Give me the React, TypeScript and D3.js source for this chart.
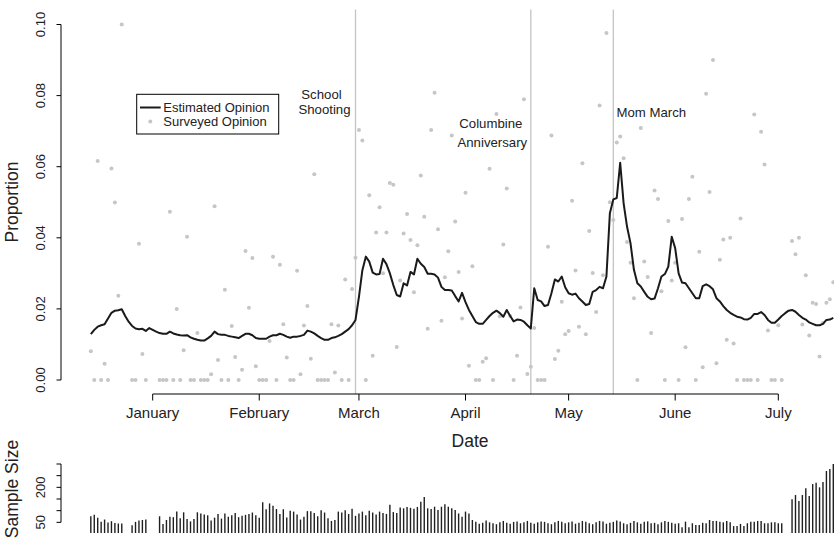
import React from "react";
import * as d3 from "d3";

// ---------- data ----------
const estimatedStart = "1999-12-14";
const estimated = [
  // Dec 14-31
  .0129,.0141,.0150,.0154,.0157,.0173,.0189,.0195,.0196,.0199,.0180,.0164,.0152,.0145,.0143,.0144,.0138,.0146,
  // Jan
  .0141,.0136,.0132,.0130,.0130,.0136,.0131,.0128,.0126,.0125,.0126,.0120,.0116,.0113,.0111,.0111,.0117,.0124,.0136,.0129,
  .0127,.0127,.0124,.0122,.0120,.0118,.0124,.0130,.0130,.0126,.0118,
  // Feb
  .0116,.0116,.0116,.0122,.0126,.0126,.0130,.0127,.0122,.0119,.0122,.0122,.0124,.0127,.0139,.0136,.0131,.0124,.0118,.0113,
  .0113,.0118,.0120,.0124,.0129,.0136,.0143,.0154,.0169,
  // Mar
  .0234,.0309,.0347,.0333,.0302,.0297,.0298,.0341,.0326,.0300,.0267,.0239,.0235,.0272,.0266,.0304,.0297,.0341,.0327,.0318,
  .0299,.0299,.0297,.0288,.0262,.0253,.0253,.0252,.0236,.0221,.0245,
  // Apr
  .0219,.0197,.0180,.0163,.0158,.0158,.0169,.0180,.0189,.0195,.0188,.0178,.0197,.0180,.0165,.0170,.0169,.0164,.0154,.0145,
  .0258,.0225,.0221,.0208,.0211,.0244,.0283,.0277,.0291,.0261,
  // May
  .0244,.0240,.0243,.0230,.0221,.0211,.0214,.0248,.0253,.0262,.0258,.0291,.0469,.0508,.0512,.0611,.0497,.0431,.0385,.0310,
  .0272,.0263,.0248,.0234,.0227,.0229,.0258,.0291,.0298,.0319,.0403,
  // Jun
  .0371,.0300,.0274,.0272,.0258,.0244,.0230,.0230,.0264,.0269,.0264,.0255,.0230,.0221,.0208,.0197,.0189,.0183,.0178,.0176,
  .0171,.0170,.0175,.0186,.0186,.0191,.0183,.0169,.0161,.0161,
  // Jul 1-17
  .0170,.0180,.0188,.0195,.0197,.0192,.0183,.0175,.0170,.0162,.0158,.0154,.0154,.0158,.0169,.0170,.0175,
];

const surveyPeriods = [
  ["1999-12-14", "1999-12-23"],
  ["1999-12-26", "1999-12-30"],
  ["2000-01-03", "2000-07-02"],
  ["2000-07-05", "2000-07-17"],
];

const surveyed = [
  // Dec 14-23
  .0081,0,.0616,0,.0046,0,.0595,.0499,.0237,.1000,
  // Dec 26-30
  0,0,.0383,.0073,0,
  // Jan 3-31
  0,0,0,.0473,0,.0200,0,.0084,.0403,0,0,.0132,0,0,0,.0016,.0489,.0056,0,.0254,0,.0152,.0065,0,.0029,.0363,.0203,.0343,.0039,
  // Feb
  0,0,0,.0110,.0347,0,.0324,.0157,.0063,0,0,.0307,.0016,.0153,.0208,.0060,.0579,0,0,0,0,.0157,.0021,.0153,0,.0283,0,.0256,.0344,
  // Mar
  .0703,.0674,0,.0520,.0068,.0415,.0486,.0300,.0415,.0554,.0549,.0093,.0280,.0412,.0467,.0394,.0247,.0379,.0575,.0459,
  .0144,.0703,.0808,.0424,.0167,.0289,.0362,.0688,.0446,.0304,.0173,
  // Apr
  .0527,.0040,.0320,0,0,.0051,.0061,.0594,0,.0748,.0179,.0381,.0539,.0180,0,.0068,.0204,.0790,.0017,.0037,
  .0146,0,0,0,.0375,.0688,.0059,.0082,.0220,.0129,
  // May
  .0138,.0504,.0308,.0150,.0610,.0129,.0419,.0301,.0191,.0772,.0295,.0976,.0500,.0450,.0668,.0685,.0624,.0388,.0330,.0230,
  0,.0709,.0333,.0290,.0132,.0533,.0509,.0250,0,.0447,.0280,
  // Jun
  .0330,0,.0453,.0092,.0509,.0572,0,.0361,.0036,.0805,.0529,.0900,.0047,.0338,.0395,.0113,.0400,.0103,0,.0454,
  0,0,0,.0747,0,.0698,.0606,.0139,0,0,
  // Jul 1-2
  .0154,0,
  // Jul 5-17
  .0391,.0354,.0400,.0156,.0295,.0125,.0217,.0214,.0066,.0160,.0217,.0227,.0275,
];

const sampleSize = [
  76,83,70,52,62,49,55,47,45,45,
  38,52,58,60,62,
  76,43,60,74,72,96,67,93,64,54,64,93,88,84,80,58,70,86,66,88,74,80,90,72,78,82,86,92,80,
  70,136,106,131,121,107,86,106,71,100,96,84,62,74,98,98,90,76,102,92,68,56,60,96,92,102,86,108,78,
  88,96,80,100,92,84,96,90,86,125,94,90,114,110,116,112,108,116,138,159,110,107,117,103,117,128,117,110,103,88,74,
  96,88,60,52,44,48,58,50,46,42,50,56,48,44,52,54,46,50,56,48,44,50,54,52,46,42,50,56,52,46,
  50,54,44,48,56,52,46,42,50,56,54,44,48,52,58,54,46,42,48,56,50,44,52,54,46,48,42,50,56,52,48,
  44,46,29,53,29,46,39,39,48,46,60,56,56,53,50,56,50,34,34,43,34,46,53,53,56,56,46,46,50,50,
  46,46,
  149,167,141,167,196,163,214,220,200,223,270,279,300,
];

const monthTicks = ["2000-01-01","2000-02-01","2000-03-01","2000-04-01","2000-05-01","2000-06-01","2000-07-01"];
const monthLabels = ["January","February","March","April","May","June","July"];
const propTicks = [0, 0.02, 0.04, 0.06, 0.08, 0.10];
const sizeTicks = [50, 100, 150, 200, 250, 300];
const sizeTickLabels = [50, 200];

const events = [
  { date: "2000-02-29", lines: ["School", "Shooting"] },
  { date: "2000-04-20", lines: ["Columbine", "Anniversary"] },
  { date: "2000-05-14", lines: ["Mom March"] },
];
const legendLabels = ["Estimated Opinion", "Surveyed Opinion"];

// ---------- layout ----------
const W = 834, H = 543;
const FONT = "'Liberation Sans', Arial, Helvetica, sans-serif";
const parse = d3.utcParse("%Y-%m-%d");

export default function App() {
  const x = d3.scaleUtc()
    .domain([parse("2000-01-01")!, parse("2000-07-01")!])
    .range([152.7, 778.3]);
  const y = d3.scaleLinear().domain([0, 0.1]).range([380, 24.5]);
  const ys = d3.scaleLinear().domain([0, 300]).range([534, 464]);

  const estStart = parse(estimatedStart)!;
  const estData = estimated.map((v, i) => ({ d: d3.utcDay.offset(estStart, i), v }));

  const surveyDates: Date[] = [];
  surveyPeriods.forEach(([a, b]) => {
    d3.utcDay.range(parse(a)!, d3.utcDay.offset(parse(b)!, 1)).forEach((d) => surveyDates.push(d));
  });

  const line = d3.line<{ d: Date; v: number }>().x((p) => x(p.d)).y((p) => y(p.v));

  const plotTop = 9.5, plotBottom = 394;

  // event label placements (offsets only, positions come from the x scale)
  const evLabel = [
    [{ dx: -34, y: 98.5 }, { dx: -31, y: 113.5 }],
    [{ dx: -40, y: 128 }, { dx: -38.5, y: 146.5 }],
    [{ dx: 38, y: 117.3 }],
  ];

  return (
    <svg width={W} height={H} style={{ position: "absolute", left: 0, top: 0, background: "#fff" }}
      fontFamily={FONT}>
      <rect x={0} y={0} width={W} height={H} fill="#fff" />
      {/* event lines */}
      {events.map((e, i) => (
        <line key={"ev" + i} x1={x(parse(e.date)!)} x2={x(parse(e.date)!)} y1={plotTop} y2={plotBottom}
          stroke="#c4c4c4" strokeWidth={1.3} />
      ))}
      {/* surveyed points */}
      {surveyDates.map((d, i) => (
        <circle key={"p" + i} cx={x(d)} cy={y(surveyed[i])} r={2} fill="#c6c6c6" />
      ))}
      {/* estimated line */}
      <path d={line(estData) || ""} fill="none" stroke="#1a1a1a" strokeWidth={2} strokeLinejoin="round" />
      {/* event labels */}
      {events.map((e, i) =>
        e.lines.map((t, j) => (
          <text key={"el" + i + j} x={x(parse(e.date)!) + evLabel[i][j].dx} y={evLabel[i][j].y}
            fontSize={13.2} textAnchor="middle" fill="#222">{t}</text>
        ))
      )}
      {/* y axis (proportion) */}
      <line x1={61} x2={61} y1={y(0)} y2={y(0.1)} stroke="#000" />
      {propTicks.map((t) => (
        <g key={"yt" + t}>
          <line x1={56.5} x2={61} y1={y(t)} y2={y(t)} stroke="#000" />
          <text transform={`translate(45,${y(t)}) rotate(-90)`} textAnchor="middle" fontSize={13} fill="#222">
            {t.toFixed(2)}
          </text>
        </g>
      ))}
      <text transform={`translate(18,202) rotate(-90)`} textAnchor="middle" fontSize={17.5} fill="#222">Proportion</text>
      {/* x axis */}
      <line x1={x(parse(monthTicks[0])!)} x2={x(parse(monthTicks[monthTicks.length - 1])!)} y1={plotBottom} y2={plotBottom} stroke="#000" />
      {monthTicks.map((m, i) => (
        <g key={"xt" + m}>
          <line x1={x(parse(m)!)} x2={x(parse(m)!)} y1={plotBottom} y2={plotBottom + 6.5} stroke="#000" />
          <text x={x(parse(m)!)} y={418} textAnchor="middle" fontSize={15} fill="#222">{monthLabels[i]}</text>
        </g>
      ))}
      <text x={470} y={447} textAnchor="middle" fontSize={17.5} fill="#222">Date</text>
      {/* legend */}
      <rect x={136.7} y={94.3} width={142} height={39.7} fill="#fff" stroke="#000" strokeWidth={1} />
      <line x1={140} x2={160.7} y1={107.5} y2={107.5} stroke="#1a1a1a" strokeWidth={2} />
      <circle cx={150.3} cy={121.5} r={2} fill="#c6c6c6" />
      <text x={163.3} y={112} fontSize={13} fill="#222">{legendLabels[0]}</text>
      <text x={163.3} y={126} fontSize={13} fill="#222">{legendLabels[1]}</text>
      {/* sample size bars */}
      {surveyDates.map((d, i) => (
        <line key={"b" + i} x1={x(d)} x2={x(d)} y1={533} y2={ys(sampleSize[i])} stroke="#1f1f1f" strokeWidth={1.4} />
      ))}
      <line x1={61} x2={61} y1={ys(50)} y2={ys(300)} stroke="#000" />
      {sizeTicks.map((t) => (
        <line key={"st" + t} x1={56.5} x2={61} y1={ys(t)} y2={ys(t)} stroke="#000" />
      ))}
      {sizeTickLabels.map((t) => (
        <text key={"sl" + t} transform={`translate(45,${ys(t)}) rotate(-90)`} textAnchor="middle" fontSize={13} fill="#222">{t}</text>
      ))}
      <text transform={`translate(18,489) rotate(-90)`} textAnchor="middle" fontSize={17.5} fill="#222">Sample Size</text>
    </svg>
  );
}
